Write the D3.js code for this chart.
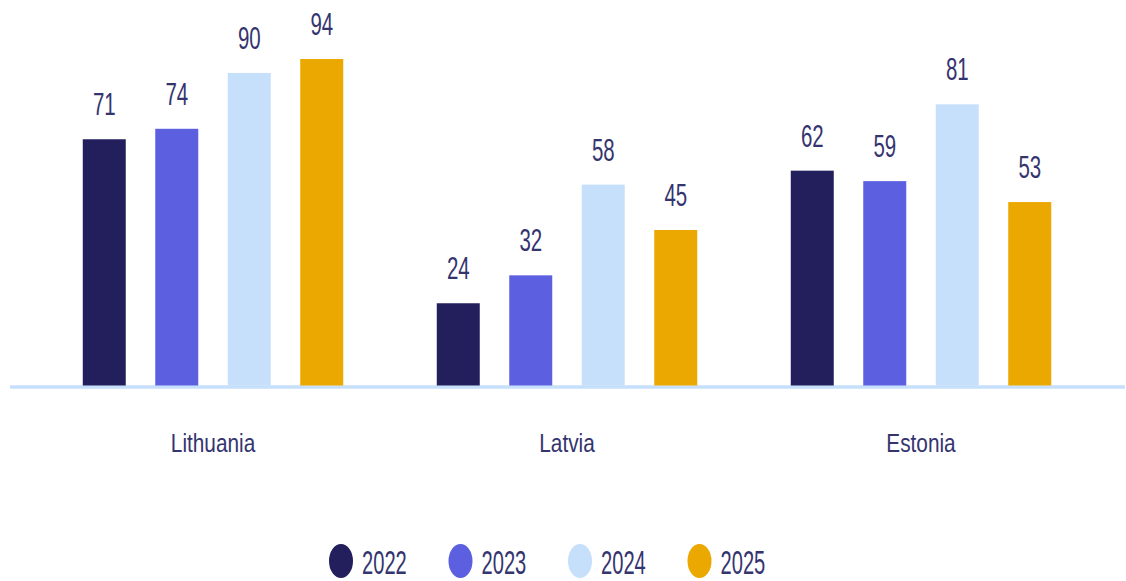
<!DOCTYPE html>
<html>
<head>
<meta charset="utf-8">
<script src="https://cdn.jsdelivr.net/npm/d3@7"></script>
<style>
  html, body { margin: 0; padding: 0; background: #ffffff; }
  svg { display: block; }
  text { font-family: "Liberation Sans", Arial, sans-serif; fill: #34346f; }
</style>
</head>
<body>
<svg id="chart" width="1126" height="581"></svg>
<script>
const categories = ["Lithuania", "Latvia", "Estonia"];
const years = ["2022", "2023", "2024", "2025"];
const values2022 = [71, 24, 62];
const values2023 = [74, 32, 59];
const values2024 = [90, 58, 81];
const values2025 = [94, 45, 53];
const colors = ["#221f5c", "#5b5fe0", "#c6dffb", "#eba800"];

const seriesValues = [values2022, values2023, values2024, values2025];
const data = categories.map((c, i) => ({
  category: c,
  values: years.map((y, j) => ({ year: y, value: seriesValues[j][i], color: colors[j] }))
}));

const svg = d3.select("#chart");
const baseY = 387;

const x0 = d3.scaleBand().domain(categories).range([36, 1098]).padding(0);
const x1 = d3.scaleBand().domain(years).range([0, x0.bandwidth()])
  .paddingInner(0.407).paddingOuter(0.645);
const y = d3.scaleLinear().domain([0, 94]).range([baseY, 59]);

// axis baseline
const xAxis = d3.axisBottom(x0).tickSize(0).tickPadding(0).tickFormat("");
const axisG = svg.append("g").attr("transform", `translate(0,${baseY})`).call(xAxis);
axisG.select(".domain").remove();
axisG.append("line")
  .attr("x1", 10).attr("x2", 1125).attr("y1", 0).attr("y2", 0)
  .attr("stroke", "#c6dffb").attr("stroke-width", 3.5);

const groups = svg.append("g").selectAll("g.grp")
  .data(data).join("g")
  .attr("class", "grp")
  .attr("transform", d => `translate(${x0(d.category)},0)`);

groups.selectAll("rect")
  .data(d => d.values).join("rect")
  .attr("x", d => x1(d.year))
  .attr("y", d => y(d.value))
  .attr("width", x1.bandwidth())
  .attr("height", d => baseY - y(d.value) - 1.5)
  .attr("fill", d => d.color);

groups.selectAll("text.val")
  .data(d => d.values).join("text")
  .attr("class", "val")
  .attr("text-anchor", "middle")
  .attr("font-size", 31)
  .attr("transform", d => `translate(${x1(d.year) + x1.bandwidth() / 2},${y(d.value) - 24}) scale(0.66,1)`)
  .text(d => d.value);

// category labels
axisG.selectAll(".tick").remove();
svg.append("g").selectAll("text.cat")
  .data(categories).join("text")
  .attr("class", "cat")
  .attr("text-anchor", "middle")
  .attr("font-size", 26)
  .attr("transform", d => `translate(${x0(d) + x0.bandwidth() / 2},452) scale(0.8,1)`)
  .text(d => d);

// legend
const legendX = d3.scalePoint().domain(years).range([341, 699.5]);
const legend = svg.append("g").selectAll("g.leg")
  .data(years.map((yr, i) => ({ year: yr, color: colors[i] }))).join("g")
  .attr("class", "leg")
  .attr("transform", d => `translate(${legendX(d.year)},561)`);
legend.append("ellipse")
  .attr("rx", 12).attr("ry", 17)
  .attr("fill", d => d.color);
legend.append("text")
  .attr("transform", "translate(21,13) scale(0.61,1)")
  .attr("font-size", 33)
  .text(d => d.year);
</script>
</body>
</html>
